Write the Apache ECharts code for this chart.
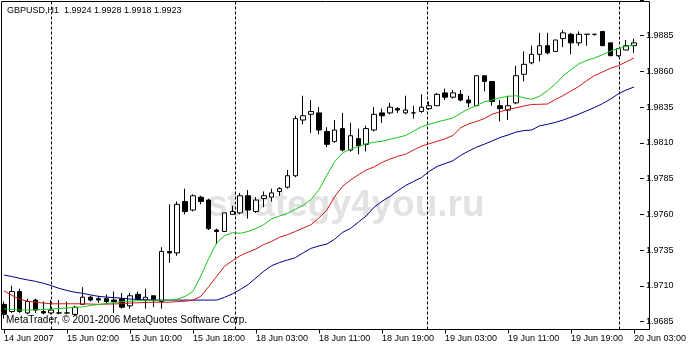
<!DOCTYPE html>
<html>
<head>
<meta charset="utf-8">
<script src="https://cdn.jsdelivr.net/npm/echarts@6.0.0/dist/echarts.min.js"></script>
<style>
html,body{margin:0;padding:0;background:#fff;}
#chart{width:689px;height:346px;}
</style>
</head>
<body>
<div id="chart"></div>
<script>
// ---- data ----
const daySegments = [['14 Jun',18,23],['15 Jun',0,22],['18 Jun',0,23],['19 Jun',0,23],['20 Jun',0,3]];
const tickLabels = ['14 Jun 2007','15 Jun 02:00','15 Jun 10:00','15 Jun 18:00','18 Jun 03:00','18 Jun 11:00',
  '18 Jun 19:00','19 Jun 03:00','19 Jun 11:00','19 Jun 19:00','20 Jun 03:00'];
const yMin = 1.9685, yMax = 1.9910, yStep = 0.0025;

const opens = [1.9697,1.9692,1.9706,1.9691,1.9700,1.9692,1.9691,1.9691,1.9691,1.9690,
  1.9697,1.9702,1.9701,1.9701,1.9700,1.9701,1.9696,1.9704,1.9700,1.9703,
  1.9699,1.9734,1.9733,1.9769,1.9763,1.9772,1.9770,1.9749,1.9748,1.9760,
  1.9761,1.9773,1.9762,1.9771,1.9772,1.9776,1.9779,1.9787,1.9826,1.9830,
  1.9831,1.9818,1.9811,1.9820,1.9805,1.9813,1.9809,1.9819,1.9831,1.9831,
  1.9834,1.9831,1.9831,1.9832,1.9834,1.9836,1.9845,1.9842,1.9844,1.9840,
  1.9836,1.9857,1.9853,1.9836,1.9833,1.9838,1.9858,1.9866,1.9872,1.9878,
  1.9874,1.9883,1.9886,1.9880,1.9886,1.9886,1.9888,1.9880,1.9871,1.9875,1.9878];
const closes = [1.9690,1.9706,1.9692,1.9699,1.9693,1.9691,1.9693,1.9691,1.9691,1.9695,
  1.9702,1.9700,1.9700,1.9699,1.9699,1.9695,1.9703,1.9701,1.9702,1.9700,
  1.9734,1.9733,1.9767,1.9762,1.9773,1.9769,1.9750,1.9748,1.9761,1.9762,
  1.9773,1.9763,1.9770,1.9773,1.9775,1.9778,1.9787,1.9827,1.9829,1.9832,
  1.9819,1.9809,1.9819,1.9805,1.9815,1.9808,1.9820,1.9830,1.9829,1.9835,
  1.9833,1.9833,1.9831,1.9835,1.9836,1.9844,1.9842,1.9845,1.9840,1.9838,
  1.9857,1.9853,1.9839,1.9834,1.9836,1.9857,1.9865,1.9872,1.9878,1.9873,
  1.9882,1.9887,1.9880,1.9886,1.9886,1.9886,1.9878,1.9871,1.9876,1.9878,1.9880];
const lows = [1.9687,1.9691,1.9691,1.9690,1.9691,1.9690,1.9690,1.9690,1.9690,1.9689,
  1.9697,1.9699,1.9698,1.9697,1.9691,1.9694,1.9694,1.9700,1.9694,1.9695,
  1.9694,1.9726,1.9731,1.9760,1.9762,1.9767,1.9749,1.9739,1.9748,1.9760,
  1.9760,1.9757,1.9761,1.9765,1.9769,1.9773,1.9778,1.9786,1.9823,1.9817,
  1.9816,1.9807,1.9810,1.9804,1.9804,1.9802,1.9804,1.9818,1.9824,1.9830,
  1.9831,1.9830,1.9827,1.9831,1.9833,1.9836,1.9840,1.9841,1.9839,1.9835,
  1.9836,1.9846,1.9836,1.9825,1.9826,1.9837,1.9853,1.9865,1.9867,1.9872,
  1.9874,1.9877,1.9872,1.9878,1.9878,1.9885,1.9878,1.9871,1.9870,1.9875,1.9873];
const highs = [1.9699,1.9710,1.9708,1.9701,1.9701,1.9699,1.9700,1.9700,1.9699,1.9696,
  1.9709,1.9703,1.9703,1.9704,1.9706,1.9705,1.9705,1.9706,1.9708,1.9703,
  1.9737,1.9767,1.9769,1.9778,1.9774,1.9773,1.9771,1.9750,1.9761,1.9766,
  1.9775,1.9777,1.9772,1.9776,1.9778,1.9779,1.9791,1.9829,1.9843,1.9840,
  1.9835,1.9821,1.9826,1.9831,1.9824,1.9820,1.9822,1.9835,1.9834,1.9838,
  1.9835,1.9843,1.9836,1.9844,1.9839,1.9845,1.9848,1.9847,1.9847,1.9843,
  1.9857,1.9857,1.9853,1.9840,1.9843,1.9864,1.9874,1.9878,1.9887,1.9887,
  1.9882,1.9889,1.9887,1.9888,1.9886,1.9886,1.9888,1.9880,1.9876,1.9882,1.9883];

const maFast = [1.96938,1.96935,1.96931,1.96931,1.96931,1.96935,1.96938,1.96941,1.96945,1.96948,
  1.96952,1.96962,1.96969,1.96975,1.96982,1.96989,1.96992,1.96996,1.96996,1.96999,
  1.96999,1.96999,1.97006,1.97026,1.97060,1.97169,1.97291,1.97399,1.97450,1.97472,
  1.97467,1.97480,1.97501,1.97528,1.97569,1.97589,1.97606,1.97636,1.97663,1.97704,
  1.97772,1.97874,1.97969,1.98030,1.98057,1.98074,1.98094,1.98104,1.98112,1.98125,
  1.98138,1.98152,1.98182,1.98213,1.98230,1.98247,1.98260,1.98274,1.98308,1.98337,
  1.98362,1.98387,1.98400,1.98416,1.98426,1.98430,1.98416,1.98406,1.98426,1.98464,
  1.98511,1.98569,1.98613,1.98653,1.98677,1.98694,1.98718,1.98742,1.98760,1.98775,1.98786];
const maMid = [1.97065,1.97033,1.97006,1.96992,1.96985,1.96979,1.96974,1.96974,1.96974,1.96974,
  1.96974,1.96972,1.96970,1.96972,1.96973,1.96975,1.96979,1.96981,1.96983,1.96985,
  1.96985,1.96985,1.96989,1.96992,1.96999,1.97026,1.97094,1.97165,1.97236,1.97275,
  1.97311,1.97335,1.97358,1.97389,1.97411,1.97440,1.97458,1.97480,1.97504,1.97528,
  1.97575,1.97630,1.97725,1.97796,1.97840,1.97877,1.97910,1.97932,1.97963,1.97987,
  1.98006,1.98021,1.98050,1.98077,1.98094,1.98111,1.98128,1.98152,1.98206,1.98233,
  1.98250,1.98270,1.98301,1.98318,1.98335,1.98345,1.98358,1.98369,1.98370,1.98372,
  1.98403,1.98431,1.98464,1.98495,1.98535,1.98572,1.98596,1.98622,1.98640,1.98667,1.98694];
const maSlow = [1.97175,1.97165,1.97152,1.97141,1.97131,1.97118,1.97101,1.97082,1.97067,1.97055,
  1.97047,1.97036,1.97026,1.97021,1.97017,1.97013,1.97007,1.97004,1.97002,1.97000,
  1.97000,1.97000,1.97000,1.97000,1.97000,1.97000,1.97000,1.97000,1.97019,1.97043,
  1.97074,1.97108,1.97155,1.97202,1.97241,1.97263,1.97280,1.97297,1.97331,1.97362,
  1.97379,1.97392,1.97426,1.97474,1.97501,1.97545,1.97589,1.97650,1.97691,1.97725,
  1.97765,1.97802,1.97830,1.97857,1.97901,1.97935,1.97955,1.97975,1.98013,1.98043,
  1.98070,1.98091,1.98114,1.98138,1.98155,1.98175,1.98186,1.98190,1.98219,1.98230,
  1.98243,1.98260,1.98280,1.98301,1.98325,1.98348,1.98375,1.98406,1.98443,1.98470,1.98491];

const titleText = 'GBPUSD,H1  1.9924 1.9928 1.9918 1.9923';
const footerText = 'MetaTrader, \u00A9 2001-2006 MetaQuotes Software Corp.';
const watermarkText = 'strategy4you.ru';

// ---- build ----
const times = [];
daySegments.forEach(([d, h0, h1]) => {
  for (let h = h0; h <= h1; h++) times.push(d + ' ' + String(h).padStart(2, '0') + ':00');
});
const separators = [];
times.forEach((t, i) => { if (i > 0 && t.endsWith(' 00:00')) separators.push(i); });
const candles = opens.map((o, i) => [o, closes[i], lows[i], highs[i]]);

const FONT = '"Liberation Sans", Arial, sans-serif';
const chart = echarts.init(document.getElementById('chart'), null, {renderer: 'canvas'});

const sepSeries = separators.map(idx => ({
  type: 'line', xAxisIndex: 1, yAxisIndex: 1, data: [[idx, 0], [idx, 1]],
  symbol: 'none', silent: true, z: 1,
  lineStyle: {color: '#000', width: 1, type: [3, 2]}
}));

chart.setOption({
  animation: false,
  backgroundColor: '#fff',
  grid: [
    {left: -0.5, right: 41.5, top: -10.375, bottom: 24.5, show: false},
    {left: 1.5, right: 39.5, top: 1.5, bottom: 16.5, show: true, borderColor: '#000', borderWidth: 1, backgroundColor: 'transparent'}
  ],
  xAxis: [
    {gridIndex: 0, type: 'category', data: times, boundaryGap: true, position: 'bottom', offset: 8,
      axisLine: {show: false},
      axisTick: {show: true, alignWithLabel: true, interval: 7, length: 4, lineStyle: {color: '#000'}},
      axisLabel: {interval: 7, align: 'left', margin: 5, color: '#000', fontSize: 9, fontFamily: FONT,
        formatter: (v, idx) => tickLabels[Math.round(idx / 8)] || ''},
      splitLine: {show: false}},
    {gridIndex: 1, type: 'value', min: -0.25, max: 80.75, show: false}
  ],
  yAxis: [
    {gridIndex: 0, type: 'value', position: 'right', offset: 2, min: yMin, max: yMax, interval: yStep, scale: true,
      axisLine: {show: false},
      axisTick: {show: true, length: 4, lineStyle: {color: '#000'}},
      axisLabel: {margin: 6, color: '#000', fontSize: 9, fontFamily: FONT,
        formatter: v => v > 1.9890 ? '' : v.toFixed(4)},
      splitLine: {show: false}},
    {gridIndex: 1, type: 'value', min: 0, max: 1, show: false}
  ],
  graphic: [
    {type: 'text', x: 207, y: 187, z: 0, silent: true,
      style: {text: watermarkText, fontSize: 37, fontWeight: 'bold', fontFamily: FONT, fill: '#e2e2e2', textBaseline: 'alphabetic',
        shadowColor: 'rgba(0,0,0,0.75)', shadowBlur: 5, shadowOffsetX: 3, shadowOffsetY: 3}},
    {type: 'text', x: 7, y: 6, z: 10, silent: true,
      style: {text: titleText, fontSize: 9, fontFamily: FONT, fill: '#000', textBaseline: 'top'}},
    {type: 'text', x: 6, y: 315.5, z: 10, silent: true,
      style: {text: footerText, fontSize: 10, fontFamily: FONT, fill: '#000', textBaseline: 'top'}}
  ],
  series: [
    ...sepSeries,
    {type: 'candlestick', xAxisIndex: 0, yAxisIndex: 0, data: candles, barWidth: 5, z: 3,
      itemStyle: {color: '#ffffff', color0: '#000000', borderColor: '#000000', borderColor0: '#000000', borderWidth: 1}},
    {type: 'line', name: 'MA slow', xAxisIndex: 0, yAxisIndex: 0, data: maSlow, symbol: 'none', z: 4,
      lineStyle: {color: '#00008c', width: 1}},
    {type: 'line', name: 'MA mid', xAxisIndex: 0, yAxisIndex: 0, data: maMid, symbol: 'none', z: 4,
      lineStyle: {color: '#d01818', width: 1}},
    {type: 'line', name: 'MA fast', xAxisIndex: 0, yAxisIndex: 0, data: maFast, symbol: 'none', z: 4,
      lineStyle: {color: '#18c818', width: 1}}
  ]
});
</script>
</body>
</html>
